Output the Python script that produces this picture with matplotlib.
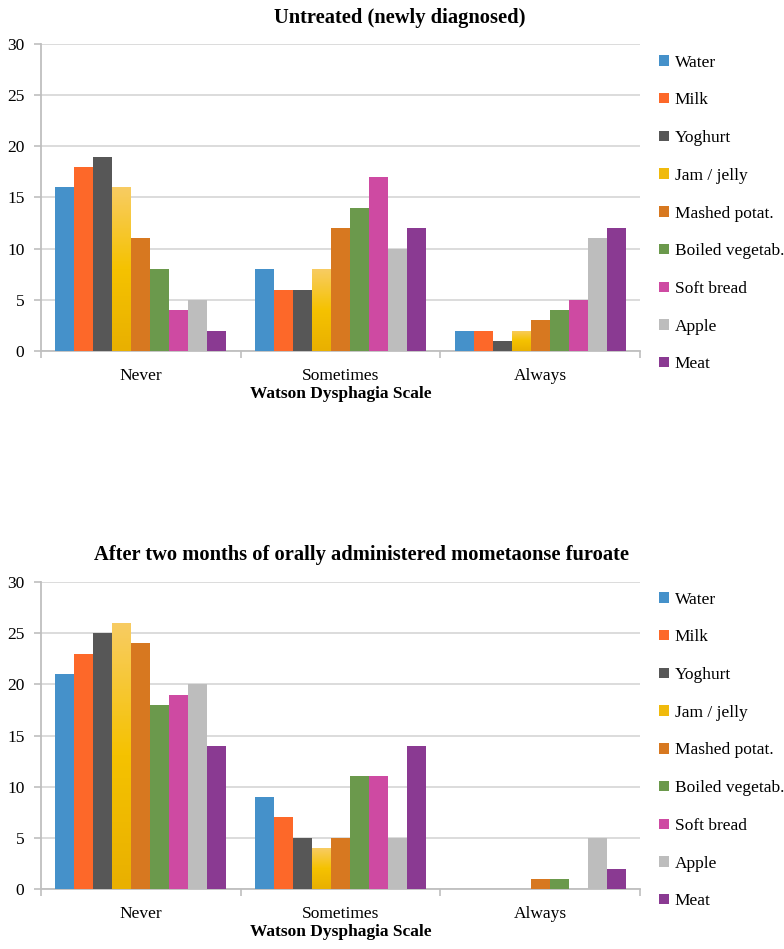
import matplotlib
matplotlib.use("Agg")
import matplotlib.pyplot as plt
import numpy as np
from matplotlib.colors import LinearSegmentedColormap

plt.rcParams['font.family'] = ['Liberation Serif', 'DejaVu Serif']

categories = ["Never", "Sometimes", "Always"]
foods = ["Water", "Milk", "Yoghurt", "Jam / jelly", "Mashed potat.",
         "Boiled vegetab.", "Soft bread", "Apple", "Meat"]
colors = ["#4591CA", "#FD6829", "#575757", "#F0BA0C", "#D77820",
          "#6B994C", "#CE4AA2", "#BDBDBD", "#8A3A92"]

# values per food: [Never, Sometimes, Always]
untreated = {
    "Water": [16, 8, 2],
    "Milk": [18, 6, 2],
    "Yoghurt": [19, 6, 1],
    "Jam / jelly": [16, 8, 2],
    "Mashed potat.": [11, 12, 3],
    "Boiled vegetab.": [8, 14, 4],
    "Soft bread": [4, 17, 5],
    "Apple": [5, 10, 11],
    "Meat": [2, 12, 12],
}
treated = {
    "Water": [21, 9, 0],
    "Milk": [23, 7, 0],
    "Yoghurt": [25, 5, 0],
    "Jam / jelly": [26, 4, 0],
    "Mashed potat.": [24, 5, 1],
    "Boiled vegetab.": [18, 11, 1],
    "Soft bread": [19, 11, 0],
    "Apple": [20, 5, 5],
    "Meat": [14, 14, 2],
}
titles = ["Untreated (newly diagnosed)",
          "After two months of orally administered mometaonse furoate"]
xlabel = "Watson Dysphagia Scale"
yticks = [0, 5, 10, 15, 20, 25, 30]

jam_cmap = LinearSegmentedColormap.from_list(
    "jam", ["#E9B000", "#F5C200", "#F8CC62"])

W, H = 784, 949
fig = plt.figure(figsize=(W / 100, H / 100), dpi=100)

def fx(px):
    return px / W

def fy(py):
    return 1 - py / H

axes_px = [(41, 44, 640, 351), (41, 582, 640, 889)]
title_px = [(400, 18), (361, 555)]
legend_center_y = [213.5, 750.5]

for i, (data, title) in enumerate(zip([untreated, treated], titles)):
    x0, y0, x1, y1 = axes_px[i]
    ax = fig.add_axes([fx(x0), fy(y1), fx(x1) - fx(x0), (y1 - y0) / H])
    n = len(foods)
    bw = 0.855 / n
    centers = np.arange(len(categories)) + 0.5
    for j, food in enumerate(foods):
        offs = (j - (n - 1) / 2) * bw
        bars = ax.bar(centers + offs, data[food], width=bw, color=colors[j],
                      label=food, zorder=3, linewidth=0)
        if food == "Jam / jelly":
            grad = np.linspace(0, 1, 100).reshape(-1, 1)
            for b in bars:
                h = b.get_height()
                if h <= 0:
                    continue
                bx = b.get_x()
                im = ax.imshow(grad, cmap=jam_cmap, origin="lower",
                               extent=[bx, bx + b.get_width(), 0, h],
                               aspect="auto", zorder=3.5)
                im.set_clip_path(b)
    ax.set_xlim(0, 3)
    ax.set_ylim(0, 30)
    ax.set_yticks(yticks)
    ax.set_yticklabels([str(v) for v in yticks], fontsize=12.5)
    ax.yaxis.grid(True, color="#D9D9D9", linewidth=1.3, zorder=0)
    ax.set_axisbelow(True)
    ax.set_xticks([0, 1, 2, 3])
    ax.set_xticklabels([])
    ax.set_xticks(centers, minor=True)
    ax.set_xticklabels(categories, minor=True, fontsize=12.5)
    ax.tick_params(axis="x", which="minor", length=0, pad=12)
    ax.tick_params(axis="x", which="major", length=5, color="#BFBFBF", width=1.2)
    ax.tick_params(axis="y", length=5, color="#BFBFBF", width=1.2, pad=7)
    for s in ["top", "right"]:
        ax.spines[s].set_visible(False)
    for s in ["left", "bottom"]:
        ax.spines[s].set_color("#BFBFBF")
        ax.spines[s].set_linewidth(1.3)
    ax.set_xlabel(xlabel, fontsize=12.5, fontweight="bold", labelpad=2)
    tx, ty = title_px[i]
    fig.text(fx(tx), fy(ty), title, fontsize=14.8, fontweight="bold",
             ha="center", va="center")
    fig.legend(*ax.get_legend_handles_labels(), loc="center left",
               bbox_to_anchor=(fx(659), fy(legend_center_y[i])),
               frameon=False, fontsize=12.5, handlelength=0.55,
               handleheight=0.55, handletextpad=0.35, labelspacing=1.25,
               borderpad=0, borderaxespad=0)

fig.savefig("out.png", dpi=100)
